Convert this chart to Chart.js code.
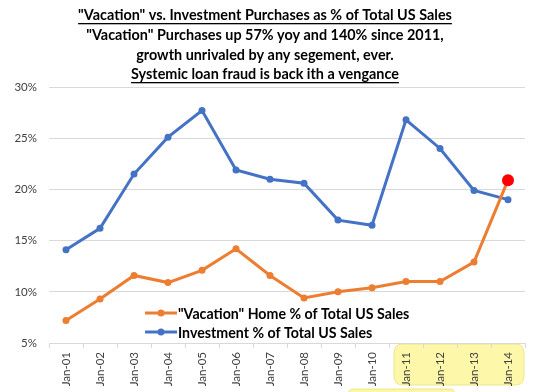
<!DOCTYPE html>
<html>
<head>
<meta charset="utf-8">
<script src="https://cdn.jsdelivr.net/npm/chart.js@4"></script>
<style>
  html, body { margin: 0; padding: 0; background: #ffffff; }
  #wrap { width: 540px; height: 392px; position: relative; }
</style>
</head>
<body>
<div id="wrap"><canvas id="c" width="540" height="392"></canvas></div>
<script>
const categories = ["Jan-01","Jan-02","Jan-03","Jan-04","Jan-05","Jan-06","Jan-07","Jan-08","Jan-09","Jan-10","Jan-11","Jan-12","Jan-13","Jan-14"];
const vacationShare = [7.2, 9.3, 11.6, 10.9, 12.1, 14.2, 11.6, 9.4, 10.0, 10.4, 11.0, 11.0, 12.9, 20.9];
const investmentShare = [14.1, 16.2, 21.5, 25.1, 27.7, 21.9, 21.0, 20.6, 17.0, 16.5, 26.8, 24.0, 19.9, 19.0];
const yTicks = [5, 10, 15, 20, 25, 30];
const titleLines = [
  "\"Vacation\" vs. Investment Purchases as % of Total US Sales",
  "\"Vacation\" Purchases up 57% yoy and 140% since 2011,",
  "growth unrivaled by any segement, ever.",
  "Systemic loan fraud is back ith a vengance"
];
const underlinedLines = [0, 3];
const legendLabels = ["\"Vacation\" Home % of Total US Sales", "Investment % of Total US Sales"];
const highlightedCategories = ["Jan-11","Jan-12","Jan-13","Jan-14"];

const ORANGE = "#ED7D31";
const BLUE = "#4472C4";
const FONT = "Lato, 'Open Sans', sans-serif";

function roundRect(ctx, x, y, w, h, r) {
  ctx.beginPath();
  ctx.moveTo(x + r, y);
  ctx.lineTo(x + w - r, y);
  ctx.quadraticCurveTo(x + w, y, x + w, y + r);
  ctx.lineTo(x + w, y + h - r);
  ctx.quadraticCurveTo(x + w, y + h, x + w - r, y + h);
  ctx.lineTo(x + r, y + h);
  ctx.quadraticCurveTo(x, y + h, x, y + h - r);
  ctx.lineTo(x, y + r);
  ctx.quadraticCurveTo(x, y, x + r, y);
  ctx.closePath();
}

const decorPlugin = {
  id: "decor",
  beforeDraw(chart) {
    const ctx = chart.ctx;
    const xs = chart.scales.x;
    const first = categories.indexOf(highlightedCategories[0]);
    const last = categories.indexOf(highlightedCategories[highlightedCategories.length - 1]);
    const half = (xs.getPixelForValue(1) - xs.getPixelForValue(0)) / 2;
    const x0 = xs.getPixelForValue(first) - half + 5;
    const x1 = xs.getPixelForValue(last) + half - 1;
    const y0 = chart.chartArea.bottom + 1;
    ctx.save();
    ctx.fillStyle = "#FCF7A9";
    ctx.strokeStyle = "#EEE68A";
    ctx.lineWidth = 1;
    roundRect(ctx, x0, y0, x1 - x0, 41, 9);
    ctx.fill();
    ctx.stroke();
    // partial shape cut off at bottom edge
    roundRect(ctx, 348, 389, 107, 20, 6);
    ctx.fill();
    ctx.stroke();
    ctx.restore();
  },
  afterDraw(chart) {
    const ctx = chart.ctx;
    ctx.save();
    // title
    ctx.fillStyle = "#000";
    ctx.textAlign = "center";
    ctx.textBaseline = "middle";
    ctx.font = "bold 14.4px " + FONT;
    const ys = [15, 35, 55, 74];
    titleLines.forEach((t, i) => {
      ctx.fillText(t, 265, ys[i]);
      if (underlinedLines.includes(i)) {
        const w = ctx.measureText(t).width;
        ctx.fillRect(265 - w / 2, ys[i] + 8, w, 1.3);
      }
    });
    // legend
    const colors = [ORANGE, BLUE];
    const ly = [313, 332];
    ctx.textAlign = "left";
    ctx.font = "bold 14.2px " + FONT;
    legendLabels.forEach((t, i) => {
      ctx.strokeStyle = colors[i];
      ctx.lineWidth = 3;
      ctx.beginPath();
      ctx.moveTo(145, ly[i]);
      ctx.lineTo(177, ly[i]);
      ctx.stroke();
      ctx.fillStyle = colors[i];
      ctx.beginPath();
      ctx.arc(161, ly[i], 3.5, 0, Math.PI * 2);
      ctx.fill();
      ctx.fillStyle = "#000";
      ctx.fillText(t, 178, ly[i] + 1);
    });
    ctx.restore();
  }
};

const pointR = vacationShare.map((v, i) => i === vacationShare.length - 1 ? 6 : 3.5);
const pointC = vacationShare.map((v, i) => i === vacationShare.length - 1 ? "#FF0000" : ORANGE);

new Chart(document.getElementById("c"), {
  type: "line",
  data: {
    labels: categories,
    datasets: [
      {
        label: legendLabels[1],
        data: investmentShare,
        borderColor: BLUE,
        backgroundColor: BLUE,
        borderWidth: 3,
        pointRadius: 3.5,
        pointBorderWidth: 0,
        pointBackgroundColor: BLUE,
        tension: 0,
        order: 2
      },
      {
        label: legendLabels[0],
        data: vacationShare,
        borderColor: ORANGE,
        backgroundColor: ORANGE,
        borderWidth: 3,
        pointRadius: pointR,
        pointBorderWidth: 0,
        pointBackgroundColor: pointC,
        tension: 0,
        order: 1
      }
    ]
  },
  options: {
    responsive: false,
    animation: false,
    devicePixelRatio: 1,
    layout: { padding: { top: 87, right: 15, left: 0, bottom: 0 } },
    plugins: {
      legend: { display: false },
      title: { display: false },
      tooltip: { enabled: false }
    },
    scales: {
      x: {
        offset: true,
        grid: {
          display: true,
          drawOnChartArea: false,
          drawTicks: true,
          tickLength: 5,
          offset: true,
          color: "#D9D9D9"
        },
        border: { display: true, color: "#D9D9D9", width: 1 },
        ticks: {
          minRotation: 90,
          maxRotation: 90,
          autoSkip: false,
          padding: 4,
          color: "#404040",
          font: { family: FONT, size: 11.5 }
        },
        afterFit(scale) { scale.height = 49; }
      },
      y: {
        min: 5,
        max: 30,
        afterBuildTicks(scale) { scale.ticks = yTicks.map(v => ({ value: v })); },
        grid: { color: "#D9D9D9", drawTicks: false, lineWidth: 1 },
        border: { display: false },
        ticks: {
          padding: 12,
          color: "#404040",
          font: { family: FONT, size: 11.5 },
          callback: v => v + "%"
        },
        afterFit(scale) { scale.width = 49; }
      }
    }
  },
  plugins: [decorPlugin]
});
</script>
</body>
</html>
